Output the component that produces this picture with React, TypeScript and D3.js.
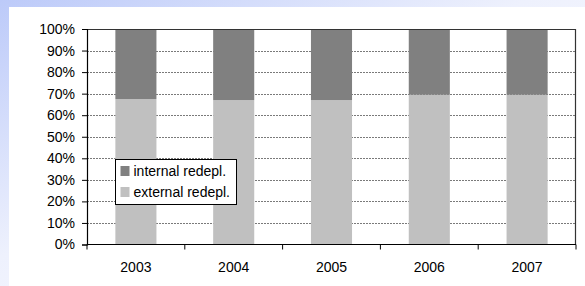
import * as d3 from "d3";
import { useEffect, useRef } from "react";

const years = ["2003", "2004", "2005", "2006", "2007"];
const external = [67.5, 67, 67, 69.5, 69.5];
const internal = [32.5, 33, 33, 30.5, 30.5];
const yTicks = [0, 10, 20, 30, 40, 50, 60, 70, 80, 90, 100];
const seriesNames = ["internal redepl.", "external redepl."];
const seriesColors = ["#808080", "#c0c0c0"];

const App = () => {
  const ref = useRef<SVGSVGElement>(null);

  useEffect(() => {
    const W = 585,
      H = 286;
    const margin = { top: 29, right: 9, bottom: 41.5, left: 87 };
    const width = W - margin.left - margin.right,
      height = H - margin.top - margin.bottom;

    const root = d3.select(ref.current);
    root.selectAll("*").remove();

    // background gradient + white panel
    const defs = root.append("defs");
    const grad = defs
      .append("linearGradient")
      .attr("id", "bg")
      .attr("x1", "0")
      .attr("y1", "0")
      .attr("x2", "1")
      .attr("y2", "1");
    grad.append("stop").attr("offset", "0%").attr("stop-color", "#bccaf9");
    grad.append("stop").attr("offset", "45%").attr("stop-color", "#eef1fd");
    grad.append("stop").attr("offset", "100%").attr("stop-color", "#ffffff");
    root.append("rect").attr("width", W).attr("height", H).attr("fill", "url(#bg)");
    root.append("rect").attr("x", 9).attr("y", 7).attr("width", W - 9).attr("height", H - 7).attr("fill", "#ffffff");

    const svg = root.append("g").attr("transform", `translate(${margin.left},${margin.top})`);

    const x = d3.scaleBand().domain(years).range([0, width]).paddingInner(0.58).paddingOuter(0.29);
    const y = d3.scaleLinear().domain([0, 100]).range([height, 0]);

    // gridlines
    svg
      .selectAll("line.grid")
      .data(yTicks.filter((t) => t > 0 && t < 100))
      .join("line")
      .attr("x1", 0)
      .attr("x2", width)
      .attr("y1", (d) => Math.round(y(d)) + 0.5)
      .attr("y2", (d) => Math.round(y(d)) + 0.5)
      .attr("stroke", "#7a7a7a")
      .attr("stroke-dasharray", "2,1");

    // stacked bars
    const rows = years.map((yr, i) => ({ year: yr, ext: external[i], int: internal[i] }));
    svg
      .selectAll("rect.ext")
      .data(rows)
      .join("rect")
      .attr("x", (d) => x(d.year)!)
      .attr("width", x.bandwidth())
      .attr("y", (d) => y(d.ext))
      .attr("height", (d) => height - y(d.ext))
      .attr("fill", seriesColors[1]);
    svg
      .selectAll("rect.int")
      .data(rows)
      .join("rect")
      .attr("x", (d) => x(d.year)!)
      .attr("width", x.bandwidth())
      .attr("y", (d) => y(d.ext + d.int))
      .attr("height", (d) => y(d.ext) - y(d.ext + d.int))
      .attr("fill", seriesColors[0]);

    // plot border top/right
    svg
      .append("path")
      .attr("d", `M0,0.5H${width - 0.5}V${height}`)
      .attr("fill", "none")
      .attr("stroke", "#333")
      .attr("stroke-width", 1.2);

    // y axis
    const yAxis = svg
      .append("g")
      .call(d3.axisLeft(y).tickValues(yTicks).tickSize(5).tickPadding(7).tickFormat((d) => `${d}%`));
    yAxis.select(".domain").attr("stroke", "#000").attr("stroke-width", 1.2);
    yAxis.selectAll("line").attr("stroke", "#000");
    yAxis
      .selectAll("text")
      .attr("font-family", "Liberation Sans, Arial, sans-serif")
      .attr("font-size", 14)
      .attr("fill", "#000");

    // x axis
    const xg = svg.append("g").attr("transform", `translate(0,${height})`);
    xg.append("line").attr("x1", 0).attr("x2", width).attr("stroke", "#000").attr("stroke-width", 1.2);
    const step = x.step();
    xg.selectAll("line.tick")
      .data(d3.range(years.length + 1))
      .join("line")
      .attr("x1", (d) => d * step)
      .attr("x2", (d) => d * step)
      .attr("y1", 0)
      .attr("y2", 5)
      .attr("stroke", "#000");
    xg.selectAll("text")
      .data(years)
      .join("text")
      .attr("x", (d) => x(d)! + x.bandwidth() / 2)
      .attr("y", 27.5)
      .attr("text-anchor", "middle")
      .attr("font-family", "Liberation Sans, Arial, sans-serif")
      .attr("font-size", 14)
      .attr("fill", "#000")
      .text((d) => d);

    // legend
    const lg = root.append("g").attr("transform", "translate(115.5,159.5)");
    lg.append("rect").attr("width", 121).attr("height", 45).attr("fill", "#fff").attr("stroke", "#000");
    seriesNames.forEach((name, i) => {
      lg.append("rect")
        .attr("x", 5)
        .attr("y", 6.5 + i * 21)
        .attr("width", 9)
        .attr("height", 10)
        .attr("fill", seriesColors[i]);
      lg.append("text")
        .attr("x", 18)
        .attr("y", 16.5 + i * 21)
        .attr("font-family", "Liberation Sans, Arial, sans-serif")
        .attr("font-size", 14)
        .attr("fill", "#000")
        .text(name);
    });
  }, []);

  return (
    <svg
      ref={ref}
      width={585}
      height={286}
      style={{ position: "absolute", left: 0, top: 0 }}
    />
  );
};

export default App;
